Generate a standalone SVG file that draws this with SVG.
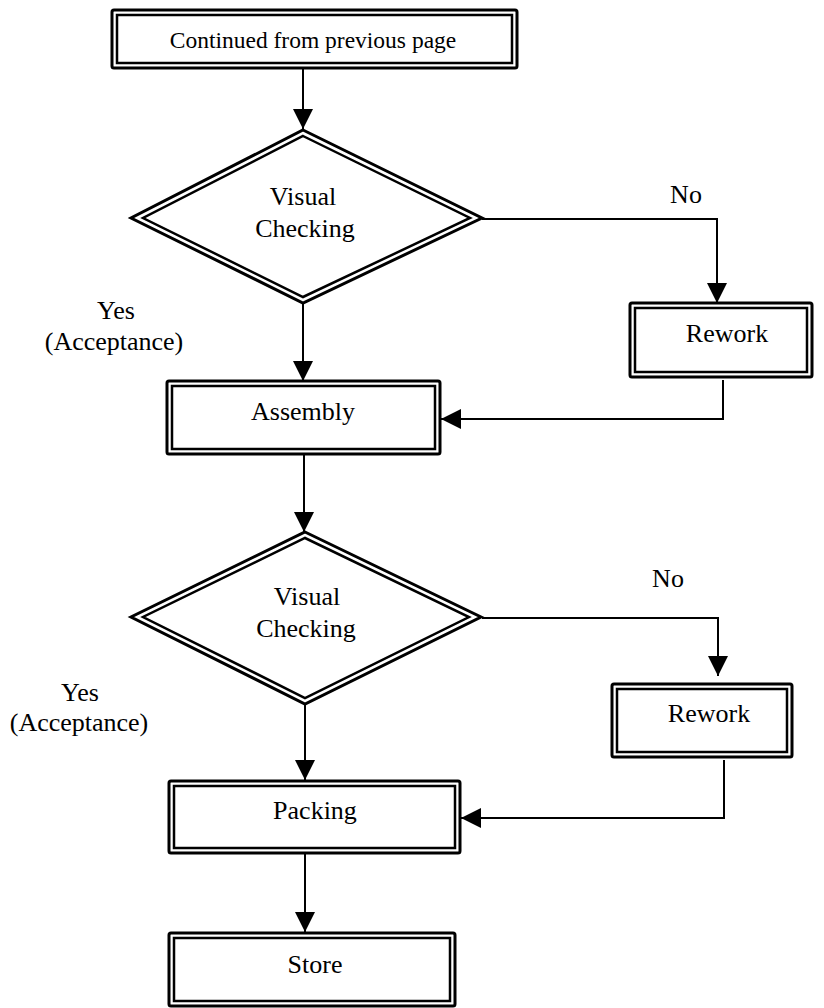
<svg xmlns="http://www.w3.org/2000/svg" width="824" height="1008" viewBox="0 0 824 1008">
<style>
.o{fill:#fff;stroke:#000;stroke-width:3}
.i{fill:none;stroke:#000;stroke-width:2.5}
.t{font-family:"Liberation Serif","Times New Roman",serif;font-size:26px;fill:#000;text-anchor:middle}
.c{fill:none;stroke:#000;stroke-width:2}
</style>
<defs>
<marker id="ah" markerUnits="userSpaceOnUse" markerWidth="20" markerHeight="20" refX="20" refY="10" orient="auto">
<path d="M0,0 L20,10 L0,20 z" fill="#000"/>
</marker>
</defs>
<rect width="824" height="1008" fill="#fff"/>
<g id="connectors">
<line class="c" x1="303" y1="68" x2="303" y2="129" marker-end="url(#ah)"/>
<polyline class="c" points="482,219 717,219 717,303" marker-end="url(#ah)"/>
<line class="c" x1="303" y1="303" x2="303" y2="381" marker-end="url(#ah)"/>
<polyline class="c" points="723,380 723,419 441,419" marker-end="url(#ah)"/>
<line class="c" x1="304" y1="454" x2="304" y2="532" marker-end="url(#ah)"/>
<polyline class="c" points="482,618 718,618 718,676" marker-end="url(#ah)"/>
<line class="c" x1="305" y1="704" x2="305" y2="780" marker-end="url(#ah)"/>
<polyline class="c" points="724,760 724,818 461,818" marker-end="url(#ah)"/>
<line class="c" x1="305" y1="853" x2="305" y2="932" marker-end="url(#ah)"/>
</g>
<g id="start">
<rect class="o" x="112" y="10" width="405" height="58" rx="2"/>
<rect class="i" x="117" y="15" width="395" height="48"/>
<text class="t" x="313" y="48" style="font-size:23.5px">Continued from previous page</text>
</g>
<g id="check1">
<polygon class="o" points="303,130 482,218 303,303 131,218"/>
<polygon class="i" points="303,136 470,218 303,297 143,218"/>
<text class="t" x="303" y="205">Visual</text>
<text class="t" x="305" y="237">Checking</text>
</g>
<g id="label-no1"><text class="t" x="686" y="203">No</text></g>
<g id="label-yes1">
<text class="t" x="116" y="319">Yes</text>
<text class="t" x="114" y="350">(Acceptance)</text>
</g>
<g id="rework1">
<rect class="o" x="630" y="303" width="182" height="74" rx="2"/>
<rect class="i" x="635" y="308" width="172" height="64"/>
<text class="t" x="727" y="342">Rework</text>
</g>
<g id="assembly">
<rect class="o" x="167" y="381" width="273" height="73" rx="2"/>
<rect class="i" x="172" y="386" width="263" height="63"/>
<text class="t" x="303" y="420">Assembly</text>
</g>
<g id="check2">
<polygon class="o" points="305,532 481,617 305,704 131,617"/>
<polygon class="i" points="305,538 469,617 305,698 143,617"/>
<text class="t" x="307" y="605">Visual</text>
<text class="t" x="306" y="637">Checking</text>
</g>
<g id="label-no2"><text class="t" x="668" y="587">No</text></g>
<g id="label-yes2">
<text class="t" x="80" y="701">Yes</text>
<text class="t" x="79" y="731">(Acceptance)</text>
</g>
<g id="rework2">
<rect class="o" x="612" y="684" width="180" height="73" rx="2"/>
<rect class="i" x="617" y="689" width="170" height="63"/>
<text class="t" x="709" y="722">Rework</text>
</g>
<g id="packing">
<rect class="o" x="169" y="781" width="291" height="72" rx="2"/>
<rect class="i" x="174" y="786" width="281" height="62"/>
<text class="t" x="315" y="819">Packing</text>
</g>
<g id="store">
<rect class="o" x="169" y="933" width="286" height="73" rx="2"/>
<rect class="i" x="174" y="938" width="276" height="63"/>
<text class="t" x="315" y="973">Store</text>
</g>
</svg>
